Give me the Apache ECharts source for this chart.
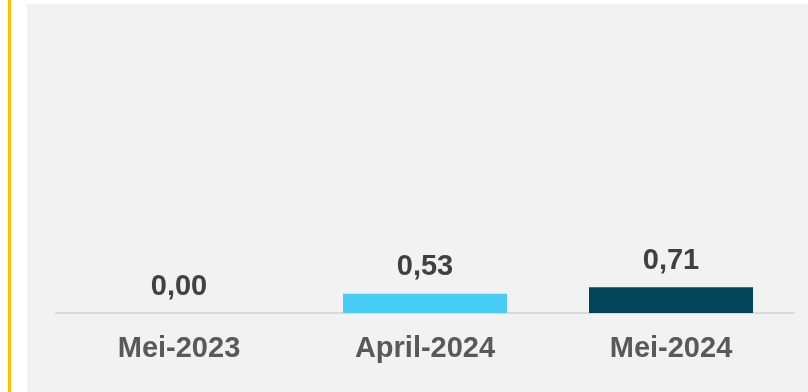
<!DOCTYPE html>
<html>
<head>
<meta charset="utf-8">
<script src="https://cdn.jsdelivr.net/npm/echarts@6/dist/echarts.min.js"></script>
<style>
  html, body { margin: 0; padding: 0; background: #ffffff; }
  body { width: 808px; height: 392px; position: relative; overflow: hidden; }
  #accent { position: absolute; left: 8px; top: 0; width: 3px; height: 392px; background: #ffc000; }
  #chart { position: absolute; left: 27px; top: 4px; width: 781px; height: 388px; background: #f2f2f2; }
</style>
</head>
<body>
<div id="accent"></div>
<div id="chart"></div>
<script>
// Periods and their values
const categories = ['Mei-2023', 'April-2024', 'Mei-2024'];
const values = [0.00, 0.53, 0.71];
const barColors = ['#7f7f7f', '#48cbf5', '#024458'];

const chart = echarts.init(document.getElementById('chart'), null, { renderer: 'canvas' });

chart.setOption({
  backgroundColor: '#f2f2f2',
  animation: false,
  grid: { left: 29, right: 14, top: 18, bottom: 79 },
  xAxis: {
    type: 'category',
    data: categories,
    axisLine: { show: true, lineStyle: { color: '#d9d9d9', width: 2 } },
    axisTick: { show: false },
    axisLabel: {
      color: '#595959',
      fontFamily: 'Liberation Sans, Arial, sans-serif',
      fontWeight: 'bold',
      fontSize: 29,
      margin: 21
    }
  },
  yAxis: {
    type: 'value',
    min: 0,
    max: 8,
    show: false,
    splitLine: { show: false }
  },
  series: [{
    type: 'bar',
    data: values.map((v, i) => ({ value: v, itemStyle: { color: barColors[i] } })),
    barWidth: 164,
    label: {
      show: true,
      position: 'top',
      distance: 12,
      color: '#404040',
      fontFamily: 'Liberation Sans, Arial, sans-serif',
      fontWeight: 'bold',
      fontSize: 29,
      formatter: p => p.value.toFixed(2).replace('.', ',')
    }
  }]
});
</script>
</body>
</html>
